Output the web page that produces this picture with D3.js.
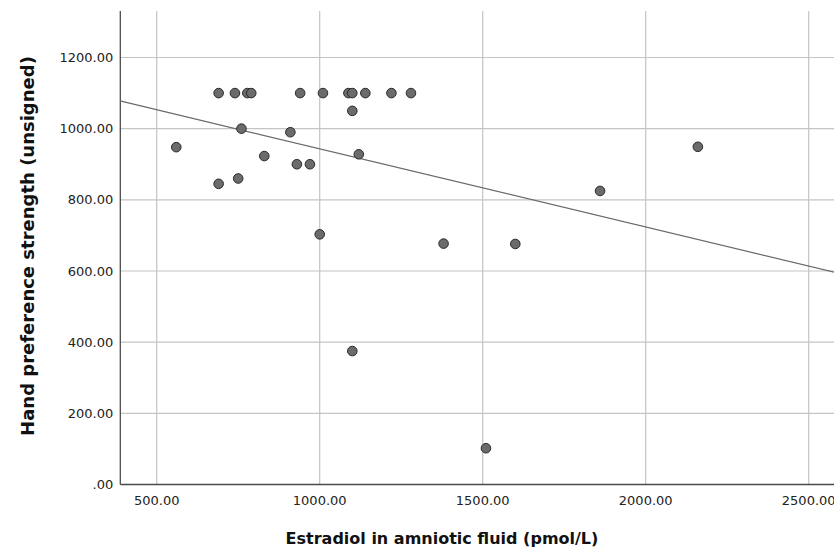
<!DOCTYPE html>
<html>
<head>
<meta charset="utf-8">
<script src="https://cdn.jsdelivr.net/npm/d3@7"></script>
<style>
  body { margin: 0; background: #fff; }
  svg { display: block; font-family: "DejaVu Sans", sans-serif; }
  .grid line { stroke: #c4c4c4; stroke-width: 1.2; }
  .tick-label { font-size: 13px; fill: #222; }
  .axis-title { font-weight: bold; fill: #111; }
  .dot { fill: #6b6b6b; stroke: #2a2a2a; stroke-width: 1; }
</style>
</head>
<body>
<div id="chart"></div>
<script>
// Estradiol (pmol/L) vs hand preference strength
const estradiol = [690, 740, 778, 790, 940, 1010, 1088, 1100, 1140, 1220, 1280,
  1100, 760, 910, 560, 830, 1120, 930, 970, 750, 690, 1000, 1380, 1600, 1860, 2160, 1100, 1510];
const handStrength = [1100, 1100, 1100, 1100, 1100, 1100, 1100, 1100, 1100, 1100, 1100,
  1050, 1000, 990, 948, 923, 928, 900, 900, 860, 845, 703, 677, 676, 825, 949, 375, 102];

// fit line end points (x, y)
const fitX = [387.5, 2600];
const fitY = [1078, 592];

const xTicks = [500, 1000, 1500, 2000, 2500];
const yTicks = [0, 200, 400, 600, 800, 1000, 1200];

const W = 834, H = 549;
const plotLeft = 120.3, plotBottom = 484.5, plotTop = 11;

const svg = d3.select('#chart').append('svg')
  .attr('width', W)
  .attr('height', H);

const x = d3.scaleLinear()
  .domain([500, 2500])
  .range([156.7, 808.7]);
const y = d3.scaleLinear()
  .domain([0, 1200])
  .range([plotBottom, 57.5]);

// grid
const grid = svg.append('g').attr('class', 'grid');
grid.selectAll('.gx')
  .data(xTicks)
  .enter()
  .append('line')
  .attr('x1', d => x(d))
  .attr('x2', d => x(d))
  .attr('y1', plotTop)
  .attr('y2', plotBottom);
grid.selectAll('.gy')
  .data(yTicks.filter(d => d > 0))
  .enter()
  .append('line')
  .attr('x1', plotLeft)
  .attr('x2', W + 10)
  .attr('y1', d => y(d))
  .attr('y2', d => y(d));

// axes lines
svg.append('line')
  .attr('x1', plotLeft).attr('x2', plotLeft)
  .attr('y1', plotTop).attr('y2', plotBottom)
  .style('stroke', '#4a4a4a').style('stroke-width', 1.3);
svg.append('line')
  .attr('x1', plotLeft).attr('x2', W + 10)
  .attr('y1', plotBottom).attr('y2', plotBottom)
  .style('stroke', '#4a4a4a').style('stroke-width', 1.3);

// tick labels
const fmt = d => d === 0 ? '.00' : d3.format('.2f')(d);
svg.selectAll('.ylab')
  .data(yTicks)
  .enter()
  .append('text')
  .attr('class', 'tick-label')
  .attr('x', plotLeft - 7)
  .attr('y', d => y(d))
  .attr('dy', '0.35em')
  .attr('text-anchor', 'end')
  .text(fmt);
// last label runs off the right edge, as in the original
svg.selectAll('.xlab')
  .data(xTicks)
  .enter()
  .append('text')
  .attr('class', 'tick-label')
  .attr('x', d => x(d))
  .attr('y', plotBottom + 16)
  .attr('dy', '0.35em')
  .attr('text-anchor', 'middle')
  .text(fmt);

// fit line
svg.append('line')
  .attr('x1', x(fitX[0])).attr('y1', y(fitY[0]))
  .attr('x2', x(fitX[1])).attr('y2', y(fitY[1]))
  .style('stroke', '#6a6a6a')
  .style('stroke-width', 1.2);

// points
svg.append('g')
  .selectAll('circle')
  .data(estradiol.map((v, i) => ({ e: v, h: handStrength[i] })))
  .enter()
  .append('circle')
  .attr('class', 'dot')
  .attr('cx', d => x(d.e))
  .attr('cy', d => y(d.h))
  .attr('r', 4.8);

// axis titles
svg.append('text')
  .attr('class', 'axis-title')
  .attr('x', 442)
  .attr('y', 538)
  .attr('dy', '0.35em')
  .attr('text-anchor', 'middle')
  .style('font-size', '16px')
  .text('Estradiol in amniotic fluid (pmol/L)');
svg.append('text')
  .attr('class', 'axis-title')
  .attr('transform', 'translate(28,246) rotate(-90)')
  .attr('dy', '0.35em')
  .attr('text-anchor', 'middle')
  .style('font-size', '18px')
  .text('Hand preference strength (unsigned)');
</script>
</body>
</html>
